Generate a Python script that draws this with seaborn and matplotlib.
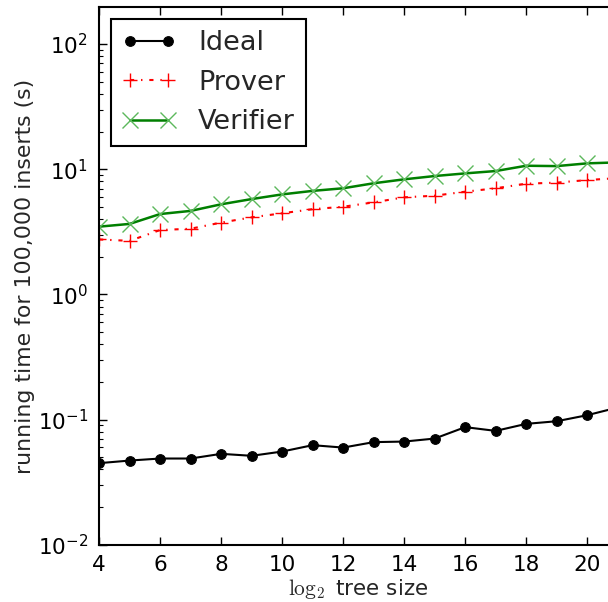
import pandas as pd
import matplotlib.pyplot as plt
import seaborn as sns

# log2 tree size
tree_size = [4, 5, 6, 7, 8, 9, 10, 11, 12, 13, 14, 15, 16, 17, 18, 19, 20, 21]

# running time (s) for 100,000 inserts
ideal = [0.0449, 0.0471, 0.0489, 0.0489, 0.0533, 0.0514, 0.0556, 0.0625, 0.0598,
         0.0661, 0.0668, 0.0706, 0.0871, 0.0813, 0.0925, 0.0971, 0.1085, 0.125]
prover = [2.75, 2.68, 3.27, 3.35, 3.75, 4.13, 4.45, 4.80, 5.02,
          5.44, 5.97, 6.15, 6.62, 7.05, 7.67, 7.82, 8.20, 8.50]
verifier = [3.48, 3.66, 4.39, 4.65, 5.25, 5.78, 6.30, 6.72, 7.05,
            7.73, 8.31, 8.83, 9.27, 9.68, 10.67, 10.6, 11.15, 11.35]

df = pd.DataFrame({'size': tree_size, 'Ideal': ideal,
                   'Prover': prover, 'Verifier': verifier})

sns.set_style("ticks")
plt.rcParams['font.family'] = ['DejaVu Sans']
plt.rcParams['mathtext.fontset'] = 'cm'

fig = plt.figure(figsize=(6.08, 6.02), dpi=100)
ax = fig.add_axes([0.163, 0.095, 0.853, 0.893])

sns.lineplot(data=df, x='size', y='Ideal', ax=ax, color='black', marker='o',
             markersize=7, markeredgecolor='black', linewidth=1.5, label='Ideal')
sns.lineplot(data=df, x='size', y='Prover', ax=ax, color='red', marker='+',
             markersize=10, markeredgewidth=1.0, markeredgecolor='red',
             linestyle='-.', linewidth=1.5, label='Prover')
sns.lineplot(data=df, x='size', y='Verifier', ax=ax, color='#007f00', marker='x',
             markersize=12, markeredgewidth=1.0, markeredgecolor='#5cb85c',
             linewidth=1.8, label='Verifier')

# old-style dash-dot pattern (3, 5, 1, 5) pt
ax.lines[1].set_dashes([2, 3.3, 0.67, 3.3])

ax.set_yscale('log')
ax.set_ylim(0.01, 197)
ax.set_xlim(4, 21)
ax.set_xticks(range(4, 22, 2))

for side in ['top', 'right', 'left', 'bottom']:
    ax.spines[side].set_visible(True)
    ax.spines[side].set_linewidth(1.5)
    ax.spines[side].set_color('black')
ax.tick_params(which='both', direction='in', top=True, right=True,
               labelsize=15.5, colors='black')
ax.tick_params(which='major', length=6, width=1)
ax.tick_params(which='minor', length=3, width=0.8)
ax.tick_params(axis='x', pad=7)
ax.tick_params(axis='y', pad=8)

ax.set_xlabel(r'$\log_2$ tree size', fontsize=15.5, labelpad=2)
ax.set_ylabel('running time for 100,000 inserts (s)', fontsize=15.8, labelpad=2)

leg = ax.legend(loc='upper left', fontsize=19.5, fancybox=False, framealpha=1,
                edgecolor='black', numpoints=2, handlelength=2.0,
                borderpad=0.4, labelspacing=0.5, handletextpad=0.8,
                borderaxespad=0.45)
leg.get_frame().set_linewidth(1.5)

plt.savefig("out.png", dpi=100)
